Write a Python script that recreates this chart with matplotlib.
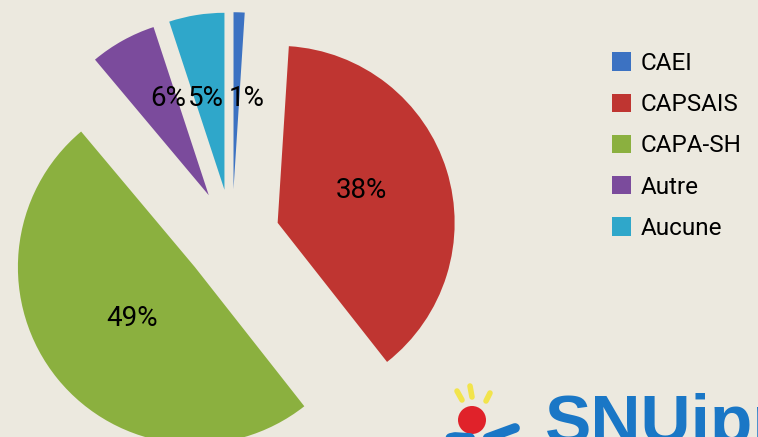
import matplotlib
matplotlib.use("Agg")
import matplotlib.pyplot as plt
from matplotlib import font_manager
from matplotlib.patches import Circle

categories = ["CAEI", "CAPSAIS", "CAPA-SH", "Autre", "Aucune"]
values = [1, 38, 49, 6, 5]
colors = ["#3C72C2", "#BF3531", "#8BB03F", "#7B4B9C", "#2FA7CA"]

def pick_font(names):
    for n in names:
        try:
            font_manager.findfont(n, fallback_to_default=False)
            return n
        except Exception:
            continue
    return "DejaVu Sans"

label_font = pick_font(["Liberation Sans Narrow", "Roboto", "Liberation Sans"])
logo_font = pick_font(["Liberation Sans", "DejaVu Sans"])

W, H = 758, 437
bg = "#ECE9DF"
fig = plt.figure(figsize=(W / 100, H / 100), dpi=100, facecolor=bg)
ax = fig.add_axes([0, 0, 1, 1])
ax.set_facecolor(bg)

wedges, texts, autotexts = ax.pie(
    values, colors=colors, startangle=90, counterclock=False,
    explode=[0.27] * len(values), radius=1.0,
    autopct="%1.0f%%", pctdistance=0.46,
    textprops=dict(fontsize=20, family=label_font, color="black"),
    wedgeprops=dict(linewidth=0),
)

# small slice labels are laid out in one row above the small slices
small_row = {0: 0.085, 4: -0.150, 3: -0.362}
for i, x in small_row.items():
    autotexts[i].set_position((x, 0.785))
autotexts[1].set_position((0.729, 0.262))

# pixel scale: 177 px per unit radius, pie centre at (232, 237) from top-left
s = 177.0
cx, cy = 232.0, 237.0
ax.set_xlim(-cx / s, (W - cx) / s)
ax.set_ylim(-(H - cy) / s, cy / s)
ax.set_aspect("auto")
ax.axis("off")

leg = fig.legend(
    wedges, categories, loc="upper left",
    bbox_to_anchor=(612 / W, 1 - 52 / H), bbox_transform=fig.transFigure,
    frameon=False, borderpad=0, borderaxespad=0,
    prop=dict(family=label_font, size=17.5),
    handlelength=0.78, handleheight=0.78, handletextpad=0.4,
    labelspacing=0.75,
)

# logo (decorative)
fig.text(545 / W, (H - 443) / H, "SNUipp", fontsize=50, fontweight="bold",
         family=logo_font, color="#1A77C6", ha="left", va="baseline")
logo_ax = fig.add_axes([0, 0, 1, 1], facecolor="none")
logo_ax.set_xlim(0, W)
logo_ax.set_ylim(H, 0)
logo_ax.axis("off")
logo_ax.add_patch(Circle((472, 420), 14, color="#E0222A", lw=0))
for (x0, y0, x1, y1) in [(457, 391, 462, 400), (470, 386, 472, 397), (490, 393, 486, 401)]:
    logo_ax.plot([x0, x1], [y0, y1], color="#F2E44B", lw=4, solid_capstyle="round")
logo_ax.plot([432, 455, 485, 515], [442, 437, 439, 428], color="#1A77C6", lw=7,
             solid_capstyle="round")

fig.savefig("out.png", dpi=100, facecolor=bg)
